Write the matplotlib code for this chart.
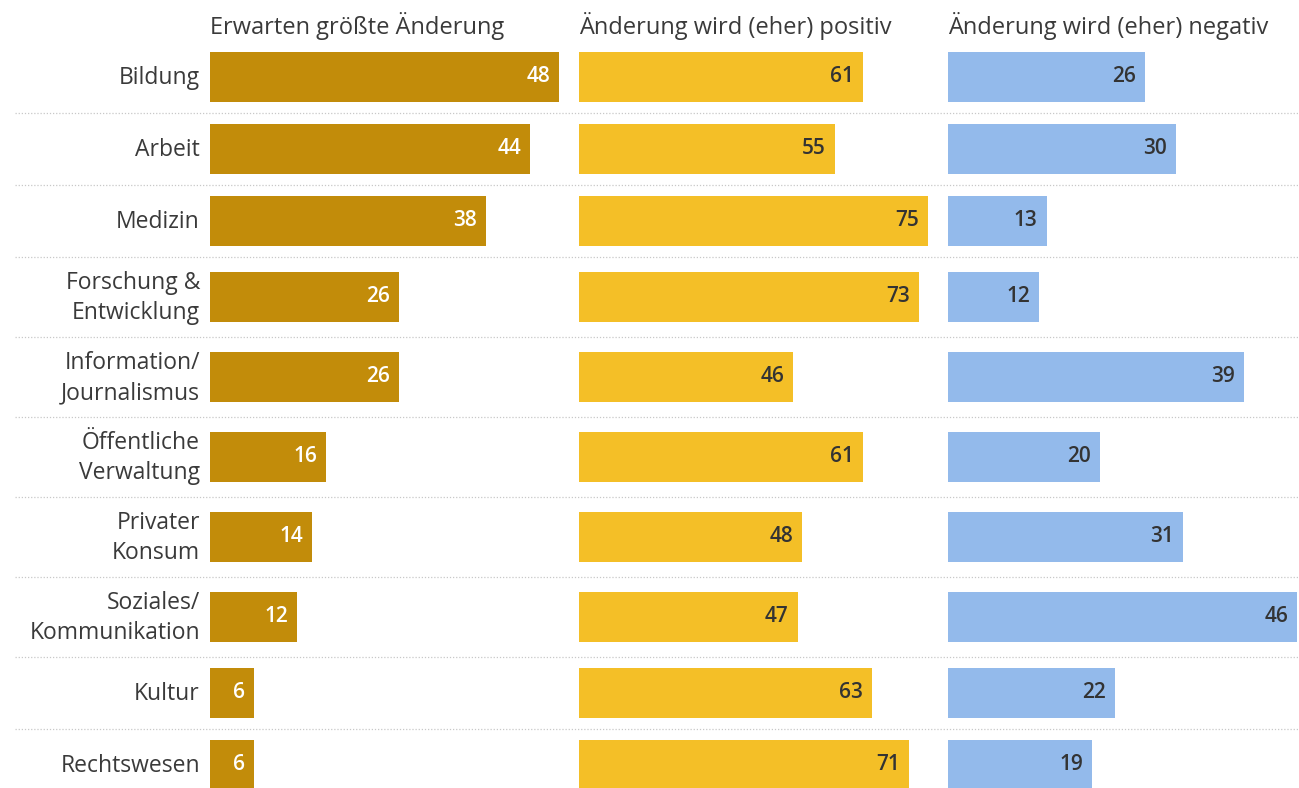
import matplotlib
matplotlib.use("Agg")
import matplotlib.pyplot as plt

# ---- data ----
categories = ["Bildung", "Arbeit", "Medizin", "Forschung &\nEntwicklung",
              "Information/\nJournalismus", "Öffentliche\nVerwaltung",
              "Privater\nKonsum", "Soziales/\nKommunikation", "Kultur", "Rechtswesen"]
panel_titles = ["Erwarten größte Änderung", "Änderung wird (eher) positiv",
                "Änderung wird (eher) negativ"]
groesste_aenderung = [48, 44, 38, 26, 26, 16, 14, 12, 6, 6]
eher_positiv = [61, 55, 75, 73, 46, 61, 48, 47, 63, 71]
eher_negativ = [26, 30, 13, 12, 39, 20, 31, 46, 22, 19]

series = [groesste_aenderung, eher_positiv, eher_negativ]
colors = ["#C28C0A", "#F4BF27", "#93BAEB"]
value_colors = ["#FFFFFF", "#333333", "#333333"]

plt.rcParams['font.family'] = ['Open Sans', 'DejaVu Sans']

W, H = 1299, 788
fig = plt.figure(figsize=(W / 100, H / 100), dpi=100)

# row layout (pixels)
row_heights = [72 if "\n" not in c else 80 for c in categories]
tops = []
t = 41
for h in row_heights:
    tops.append(t)
    t += h
centers = [tp + h / 2 for tp, h in zip(tops, row_heights)]
bar_h = 50

# background axes in pixel coordinates
bg = fig.add_axes([0, 0, 1, 1])
bg.set_xlim(0, W)
bg.set_ylim(H, 0)
bg.axis("off")
for tp in tops[1:]:
    bg.plot([15, W], [tp, tp], linestyle=(0, (1, 1.5)), color="#C8C8C8", lw=0.9)
for cat, cy in zip(categories, centers):
    bg.text(200, cy + 1, cat, ha="right", va="center", multialignment="right",
            fontsize=16.5, color="#3A3A3A", linespacing=1.36)

panel_lefts = [210, 579, 948]
panel_width = 349
for i, (vals, col, vcol, title, x0) in enumerate(zip(series, colors, value_colors,
                                                      panel_titles, panel_lefts)):
    ax = fig.add_axes([x0 / W, 0, panel_width / W, 1])
    ax.set_xlim(0, max(vals))
    ax.set_ylim(H, 0)
    ax.axis("off")
    ax.barh(centers, vals, height=bar_h, color=col, edgecolor="none")
    for v, cy in zip(vals, centers):
        ax.annotate(str(v), xy=(v, cy), xytext=(-9, 1), textcoords="offset pixels",
                    ha="right", va="center", fontsize=15, fontweight="semibold",
                    color=vcol)
    bg.text(x0, 34, title, ha="left", va="baseline", fontsize=17, color="#3A3A3A")

fig.savefig("out.png", dpi=100)
